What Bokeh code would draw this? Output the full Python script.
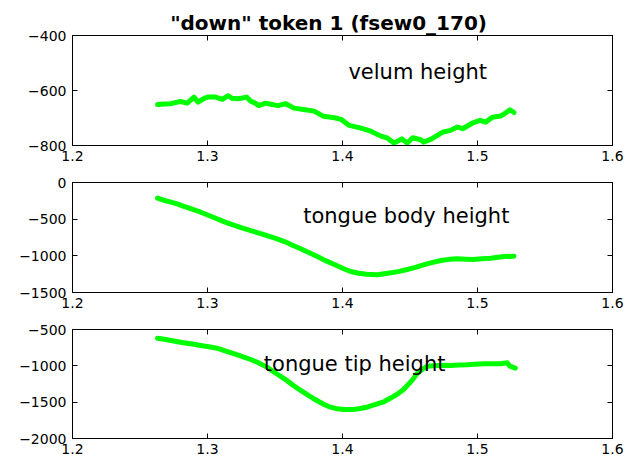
from bokeh.plotting import figure
from bokeh.layouts import column
from bokeh.models import Range1d, FixedTicker, LinearAxis
from bokeh.core.properties import value
from bokeh.embed import file_html
from bokeh.resources import INLINE

# Articulator trajectories for "down", token 1 (speaker fsew0, file 170)
time_velum = [1.263, 1.268, 1.273, 1.277, 1.280, 1.285, 1.290, 1.293, 1.297, 1.300,
              1.306, 1.311, 1.315, 1.318, 1.322, 1.326, 1.329, 1.332, 1.335, 1.338,
              1.343, 1.347, 1.352, 1.358, 1.364, 1.371, 1.379, 1.386, 1.394, 1.399,
              1.405, 1.413, 1.421, 1.428, 1.433, 1.438, 1.444, 1.448, 1.452, 1.458,
              1.460, 1.466, 1.474, 1.480, 1.485, 1.489, 1.496, 1.502, 1.506, 1.511,
              1.517, 1.521, 1.524, 1.527]
velum_height = [-651, -649, -648, -643, -640, -646, -624, -642, -630, -624,
                -624, -632, -619, -628, -630, -627, -624, -639, -645, -655,
                -646, -650, -655, -648, -664, -669, -675, -694, -699, -705,
                -727, -736, -748, -765, -772, -791, -776, -791, -772, -779,
                -788, -776, -752, -745, -733, -739, -719, -709, -715, -697,
                -693, -681, -670, -680]

time_body = [1.263, 1.268, 1.273, 1.278, 1.282, 1.288, 1.295, 1.301, 1.307, 1.313,
             1.320, 1.326, 1.332, 1.338, 1.344, 1.350, 1.357, 1.363, 1.369, 1.375,
             1.381, 1.387, 1.394, 1.400, 1.406, 1.412, 1.418, 1.426, 1.431, 1.436,
             1.442, 1.448, 1.454, 1.460, 1.466, 1.473, 1.479, 1.485, 1.491, 1.497,
             1.503, 1.510, 1.515, 1.520, 1.527]
tongue_body_height = [-214, -245, -268, -295, -323, -360, -405, -450, -495, -540,
                      -586, -622, -655, -690, -723, -760, -805, -855, -904, -955,
                      -1005, -1062, -1118, -1170, -1214, -1238, -1250, -1259, -1245, -1232,
                      -1212, -1186, -1158, -1123, -1093, -1064, -1048, -1041, -1045, -1050,
                      -1040, -1032, -1020, -1009, -1005]

time_tip = [1.263, 1.268, 1.273, 1.278, 1.282, 1.289, 1.295, 1.301, 1.307, 1.313,
            1.320, 1.326, 1.332, 1.338, 1.344, 1.350, 1.357, 1.363, 1.369, 1.375,
            1.381, 1.386, 1.391, 1.396, 1.401, 1.408, 1.413, 1.418, 1.424, 1.431,
            1.436, 1.441, 1.445, 1.448, 1.452, 1.455, 1.459, 1.463, 1.470, 1.476,
            1.480, 1.486, 1.492, 1.498, 1.505, 1.511, 1.517, 1.522, 1.524, 1.528]
tongue_tip_height = [-620, -635, -651, -668, -683, -700, -720, -738, -757, -795,
                     -835, -872, -913, -960, -1018, -1095, -1179, -1262, -1339, -1410,
                     -1477, -1528, -1569, -1590, -1601, -1601, -1588, -1569, -1533, -1491,
                     -1440, -1385, -1330, -1271, -1190, -1110, -1050, -1005, -995, -992,
                     -995, -990, -986, -978, -972, -970, -972, -958, -1005, -1032]

x_ticks = [1.2, 1.3, 1.4, 1.5, 1.6]
x_tick_labels = ["1.2", "1.3", "1.4", "1.5", "1.6"]

velum_ticks = [-800, -600, -400]
velum_tick_labels = ["\u2212800", "\u2212600", "\u2212400"]
body_ticks = [-1500, -1000, -500, 0]
body_tick_labels = ["\u22121500", "\u22121000", "\u2212500", "0"]
tip_ticks = [-2000, -1500, -1000, -500]
tip_tick_labels = ["\u22122000", "\u22121500", "\u22121000", "\u2212500"]

panel_titles = ["velum height", "tongue body height", "tongue tip height"]
title_text = '"down"   token 1   (fsew0_170)'

FONT = "DejaVu Sans"
GREEN = "#00ff00"


def style_axis(axis, ticks, labels, show_labels=True):
    axis.ticker = FixedTicker(ticks=ticks)
    axis.axis_line_color = "black"
    axis.axis_line_width = 1
    axis.major_tick_line_color = "black"
    axis.major_tick_in = 5
    axis.major_tick_out = 0
    axis.minor_tick_line_color = None
    axis.major_label_text_font = FONT
    axis.major_label_text_color = "black"
    if show_labels:
        axis.major_label_overrides = dict(zip(ticks, labels))
        axis.major_label_text_font_size = "14px"
        axis.major_label_standoff = 5
    else:
        # mirrored box ticks only, no numbers
        axis.major_label_overrides = {t: "" for t in ticks}
        axis.major_label_text_font_size = "1px"
        axis.major_label_standoff = 0


def panel(t, y, y_range, y_ticks, y_labels, label, label_x, label_y,
          border_top, border_bottom, frame_h, title=None):
    p = figure(
        width=629, height=border_top + frame_h + border_bottom,
        frame_width=540, frame_height=frame_h,
        min_border_left=72, min_border_right=17,
        min_border_top=border_top, min_border_bottom=border_bottom,
        x_range=Range1d(1.2, 1.6), y_range=Range1d(*y_range),
        output_backend="svg", toolbar_location=None,
        title=title,
    )
    p.grid.visible = False
    p.outline_line_color = "black"
    p.background_fill_color = "white"
    p.border_fill_color = "white"

    style_axis(p.xaxis[0], x_ticks, x_tick_labels)
    style_axis(p.yaxis[0], y_ticks, y_labels)
    p.yaxis[0].major_label_standoff = 6

    top = LinearAxis()
    style_axis(top, x_ticks, x_tick_labels, show_labels=False)
    p.add_layout(top, "above")
    right = LinearAxis()
    style_axis(right, y_ticks, y_labels, show_labels=False)
    p.add_layout(right, "right")

    p.line(t, y, line_color=GREEN, line_width=5,
           line_join="round", line_cap="round")
    p.text(x=[label_x], y=[label_y], text=[label],
           text_font=value(FONT), text_font_size="21px",
           text_color="black", text_align="left",
           text_baseline="alphabetic")

    if title is not None:
        p.title.text_font = FONT
        p.title.text_font_size = "20px"
        p.title.text_font_style = "bold"
        p.title.text_color = "black"
        p.title.align = "center"
        p.title.standoff = 2
    return p


p1 = panel(time_velum, velum_height, (-800, -400), velum_ticks, velum_tick_labels,
           panel_titles[0], 1.4044, -533, 35, 18, 110, title=title_text)
p2 = panel(time_body, tongue_body_height, (-1500, 0), body_ticks, body_tick_labels,
           panel_titles[1], 1.3709, -460, 19, 18, 110)
p3 = panel(time_tip, tongue_tip_height, (-2000, -500), tip_ticks, tip_tick_labels,
           panel_titles[2], 1.3417, -972, 19, 28, 109)

layout = column(p1, p2, p3, spacing=0)
open("out.html", "w").write(file_html(layout, INLINE))
